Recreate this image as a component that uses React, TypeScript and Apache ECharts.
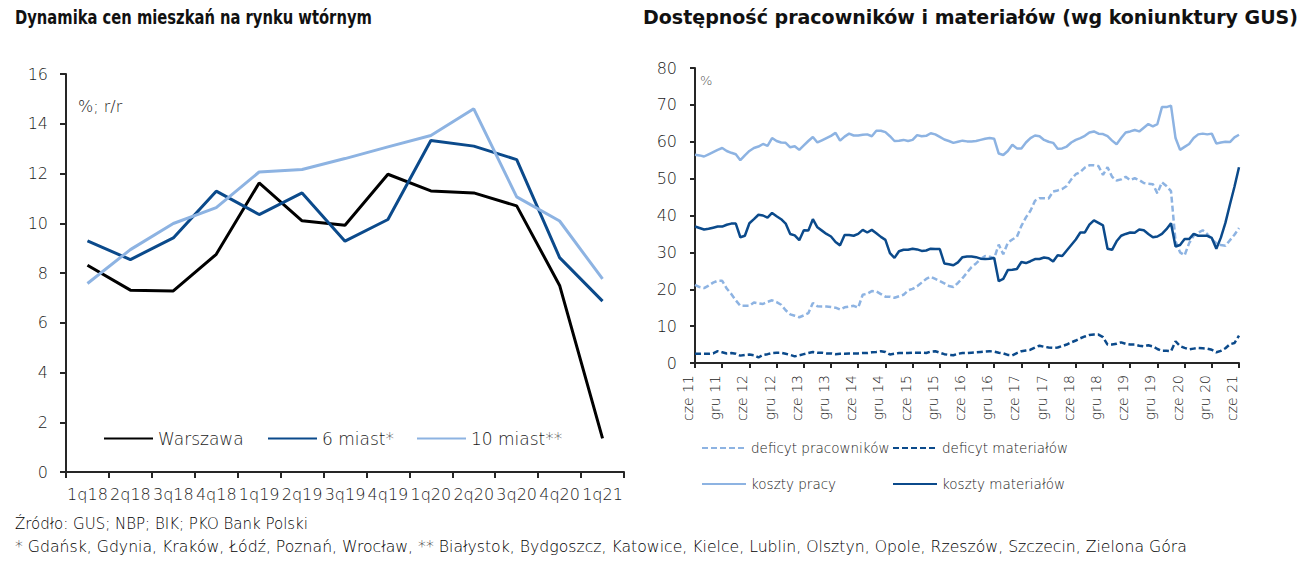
import React, { useEffect, useRef } from 'react';
import * as echarts from 'echarts';

// ---- Left chart data ----
const quarters = ['1q18', '2q18', '3q18', '4q18', '1q19', '2q19', '3q19', '4q19', '1q20', '2q20', '3q20', '4q20', '1q21'];
const warszawa = [8.31, 7.31, 7.28, 8.75, 11.62, 10.1, 9.92, 11.97, 11.3, 11.22, 10.7, 7.5, 1.35];
const miast6 = [9.29, 8.54, 9.41, 11.29, 10.35, 11.22, 9.28, 10.15, 13.33, 13.1, 12.56, 8.62, 6.87];
const miast10 = [7.58, 8.94, 9.99, 10.63, 12.06, 12.16, 12.6, 13.07, 13.53, 14.6, 11.06, 10.09, 7.76];

// ---- Right chart data (monthly, cze 11 .. cze 21) ----
const monthNames = ['sty', 'lut', 'mar', 'kwi', 'maj', 'cze', 'lip', 'sie', 'wrz', 'paź', 'lis', 'gru'];
const months: string[] = [];
for (let i = 0; i < 121; i++) {
  const mi = (5 + i) % 12;
  const yr = 11 + Math.floor((5 + i) / 12);
  months.push(monthNames[mi] + ' ' + yr);
}

const deficytPracownikow = [
  21.2, 20.6, 20.3, 21.0, 21.8, 22.3, 22.3, 20.2, 18.7, 17.0,
  15.5, 15.5, 15.5, 16.4, 16.2, 16.0, 16.6, 17.0, 16.5, 15.8,
  14.3, 13.2, 12.8, 12.4, 12.9, 13.5, 16.3, 15.4, 15.3, 15.3,
  15.2, 15.0, 14.5, 15.1, 15.3, 15.5, 15.0, 18.5, 18.8, 19.5,
  19.4, 18.7, 18.0, 18.0, 17.7, 18.1, 18.5, 19.7, 20.1, 20.8,
  21.8, 22.8, 23.4, 22.8, 22.2, 21.6, 20.9, 20.6, 21.7, 23.0,
  24.5, 26.0, 27.0, 28.2, 29.0, 28.8, 28.4, 32.1, 29.5, 32.6,
  33.5, 34.2, 37.2, 39.5, 41.3, 44.0, 44.7, 44.7, 44.6, 46.5,
  46.8, 47.2, 48.0, 49.8, 51.2, 51.8, 53.0, 53.6, 53.6, 53.4,
  51.0, 53.1, 50.5, 49.5, 49.8, 50.5, 49.6, 50.1, 49.6, 48.8,
  48.6, 48.5, 46.0, 49.0, 48.0, 46.6, 33.0, 30.0, 29.2, 32.5,
  34.5, 35.3, 36.0, 35.0, 33.5, 32.5, 32.0, 31.8, 33.3, 34.8,
  36.6,
];

const deficytMaterialow = [
  2.5, 2.5, 2.5, 2.5, 2.6, 3.2, 2.9, 2.6, 2.7, 2.5,
  2.0, 2.2, 2.3, 2.1, 1.5, 2.2, 2.4, 2.7, 2.8, 2.8,
  2.5, 2.2, 1.8, 2.1, 2.4, 2.7, 3.0, 2.8, 2.8, 2.6,
  2.6, 2.4, 2.5, 2.5, 2.6, 2.6, 2.6, 2.7, 2.7, 2.9,
  3.0, 3.2, 3.0, 2.3, 2.5, 2.7, 2.7, 2.7, 2.8, 2.8,
  2.8, 2.7, 3.1, 3.2, 2.8, 2.4, 2.2, 2.1, 2.5, 2.7,
  2.7, 2.8, 2.9, 3.0, 3.1, 3.2, 3.1, 2.8, 2.6, 2.2,
  2.1, 2.7, 3.2, 3.4, 3.6, 4.2, 4.7, 4.4, 4.2, 4.1,
  4.2, 4.6, 5.0, 5.6, 6.1, 6.7, 7.2, 7.6, 7.7, 7.7,
  7.0, 5.0, 5.0, 5.2, 5.6, 5.2, 5.0, 5.0, 4.7, 4.5,
  4.8, 4.5, 3.8, 3.3, 3.3, 3.2, 5.9, 4.6, 4.1, 3.7,
  3.9, 4.1, 4.0, 3.9, 3.6, 2.9, 3.3, 4.0, 5.1, 5.4,
  7.4,
];

const kosztyPracy = [
  56.5, 56.3, 56.0, 56.6, 57.2, 57.8, 58.3, 57.5, 57.0, 56.6,
  55.0, 56.3, 57.5, 58.3, 58.7, 59.4, 58.9, 61.0, 60.2, 59.8,
  59.7, 58.5, 58.8, 57.8, 59.0, 60.2, 61.3, 59.8, 60.4, 61.0,
  61.6, 62.4, 60.3, 61.4, 62.2, 61.7, 61.7, 61.9, 62.0, 61.5,
  63.0, 63.0, 62.6, 61.5, 60.2, 60.3, 60.5, 60.2, 60.5, 61.8,
  61.5, 61.6, 62.3, 62.0, 61.3, 60.6, 60.2, 59.7, 60.0, 60.3,
  60.1, 60.1, 60.2, 60.5, 60.8, 61.0, 60.8, 56.8, 56.4, 57.5,
  59.2, 58.2, 58.2, 59.8, 61.0, 61.7, 61.5, 60.5, 60.0, 59.7,
  58.1, 58.2, 58.7, 59.8, 60.5, 61.0, 61.6, 62.5, 62.8, 62.2,
  62.1, 61.5, 60.3, 59.3, 61.0, 62.5, 62.8, 63.2, 62.8, 63.8,
  64.8, 64.2, 64.8, 69.4, 69.4, 69.8, 61.0, 57.8, 58.6, 59.4,
  61.0, 62.0, 62.2, 62.0, 62.2, 59.5, 59.8, 60.0, 59.9, 61.2,
  61.9,
];

const kosztyMaterialow = [
  37.0, 36.6, 36.2, 36.4, 36.7, 37.0, 37.0, 37.5, 37.8, 37.8,
  34.1, 34.5, 37.9, 39.0, 40.2, 40.0, 39.4, 40.7, 39.8, 39.0,
  37.8, 35.0, 34.6, 33.3, 36.0, 35.9, 39.0, 36.8, 35.9, 35.0,
  34.3, 32.8, 31.9, 34.7, 34.7, 34.5, 35.0, 36.1, 35.4, 36.1,
  35.2, 34.2, 33.4, 29.8, 28.5, 30.3, 30.7, 30.7, 31.0, 30.8,
  30.4, 30.5, 31.0, 30.9, 30.9, 27.0, 26.8, 26.5, 27.3, 28.7,
  28.9, 28.9, 28.7, 28.3, 28.2, 28.3, 28.5, 22.2, 22.8, 25.2,
  25.3, 25.5, 27.4, 27.1, 27.6, 28.2, 28.2, 28.6, 28.4, 27.5,
  29.2, 29.0, 30.5, 32.0, 33.5, 35.4, 35.4, 37.5, 38.7, 38.0,
  37.3, 31.0, 30.7, 33.0, 34.5, 35.0, 35.4, 35.3, 36.2, 36.0,
  35.0, 34.1, 34.3, 35.0, 36.3, 37.9, 31.6, 32.0, 33.6, 33.6,
  35.0, 34.5, 34.5, 34.5, 33.9, 31.0, 34.0, 38.0, 43.0, 47.8,
  53.1,
];

const BLACK = '#000000';
const DARK = '#0b4a8b';
const LIGHT = '#8db3e2';
const AXIS = '#262626';
const labelFont = '"DejaVu Sans", sans-serif';
const LW = 200;
const titleFont = '"DejaVu Sans Condensed", "DejaVu Sans", sans-serif';

function legendAt(name: string, left: number, top: number, w: number, fs: number) {
  return {
    data: [name],
    left,
    top,
    itemWidth: w,
    itemHeight: 14,
    padding: 0,
    selectedMode: false,
    itemStyle: { opacity: 0 },
    textStyle: { fontSize: fs, color: '#1a1a1a', fontFamily: labelFont, fontWeight: LW },
  };
}

export default function App() {
  const ref = useRef<HTMLDivElement>(null);
  useEffect(() => {
    const chart = echarts.init(ref.current!, null, { renderer: 'svg' });
    const option: any = {
      animation: false,
      backgroundColor: '#ffffff',
      legend: [
        legendAt('Warszawa', 103, 430, 49, 17),
        legendAt('6 miast*', 267, 430, 49, 17),
        legendAt('10 miast**', 416, 430, 49, 17),
        legendAt('deficyt pracowników', 701, 441, 44, 13.5),
        legendAt('deficyt materiałów', 892, 441, 44, 13.5),
        legendAt('koszty pracy', 701, 477, 44, 13.5),
        legendAt('koszty materiałów', 892, 477, 44, 13.5),
      ],
      grid: [
        { left: 66, top: 74, width: 558, height: 398 },
        { left: 695, top: 68, width: 544, height: 295 },
      ],
      xAxis: [
        {
          type: 'category',
          gridIndex: 0,
          data: quarters,
          boundaryGap: true,
          axisLine: { lineStyle: { color: AXIS, width: 2 } },
          axisTick: { show: true, length: 6, lineStyle: { color: AXIS, width: 2 } },
          axisLabel: { interval: 0, margin: 14, fontSize: 16, color: '#1a1a1a', fontFamily: labelFont, fontWeight: LW },
          splitLine: { show: false },
        },
        {
          type: 'category',
          gridIndex: 1,
          data: months,
          boundaryGap: false,
          axisLine: { lineStyle: { color: AXIS, width: 2 } },
          axisTick: { show: true, interval: 5, length: 5, lineStyle: { color: AXIS, width: 2 } },
          axisLabel: {
            interval: 5,
            rotate: 90,
            margin: 12,
            fontSize: 14,
            color: '#1a1a1a',
            fontFamily: labelFont,
            fontWeight: LW,
            verticalAlign: 'bottom',
          },
          splitLine: { show: false },
        },
      ],
      yAxis: [
        {
          type: 'value',
          gridIndex: 0,
          min: 0,
          max: 16,
          interval: 2,
          axisLine: { show: true, lineStyle: { color: AXIS, width: 2 } },
          axisTick: { show: true, length: 6, lineStyle: { color: AXIS, width: 2 } },
          axisLabel: { margin: 18, fontSize: 16, color: '#1a1a1a', fontFamily: labelFont, fontWeight: LW },
          splitLine: { show: false },
        },
        {
          type: 'value',
          gridIndex: 1,
          min: 0,
          max: 80,
          interval: 10,
          axisLine: { show: true, lineStyle: { color: AXIS, width: 2 } },
          axisTick: { show: true, length: 5, lineStyle: { color: AXIS, width: 2 } },
          axisLabel: { margin: 18, fontSize: 16, color: '#1a1a1a', fontFamily: labelFont, fontWeight: LW },
          splitLine: { show: false },
        },
      ],
      series: [
        { name: 'Warszawa', type: 'line', xAxisIndex: 0, yAxisIndex: 0, data: warszawa, symbol: 'none', color: BLACK, lineStyle: { color: BLACK, width: 3 } },
        { name: '6 miast*', type: 'line', xAxisIndex: 0, yAxisIndex: 0, data: miast6, symbol: 'none', color: DARK, lineStyle: { color: DARK, width: 3 } },
        { name: '10 miast**', type: 'line', xAxisIndex: 0, yAxisIndex: 0, data: miast10, symbol: 'none', color: LIGHT, lineStyle: { color: LIGHT, width: 3 } },
        { name: 'deficyt pracowników', type: 'line', xAxisIndex: 1, yAxisIndex: 1, data: deficytPracownikow, symbol: 'none', color: LIGHT, lineStyle: { color: LIGHT, width: 2.5, type: [6, 3] } },
        { name: 'deficyt materiałów', type: 'line', xAxisIndex: 1, yAxisIndex: 1, data: deficytMaterialow, symbol: 'none', color: DARK, lineStyle: { color: DARK, width: 2.5, type: [6, 3] } },
        { name: 'koszty pracy', type: 'line', xAxisIndex: 1, yAxisIndex: 1, data: kosztyPracy, symbol: 'none', color: LIGHT, lineStyle: { color: LIGHT, width: 2.5 } },
        { name: 'koszty materiałów', type: 'line', xAxisIndex: 1, yAxisIndex: 1, data: kosztyMaterialow, symbol: 'none', color: DARK, lineStyle: { color: DARK, width: 2.5 } },
      ],
      graphic: [
        {
          type: 'text',
          x: 15,
          y: 7,
          scaleX: 0.82,
          style: { text: 'Dynamika cen mieszkań na rynku wtórnym', fontSize: 20, fontWeight: 'bold', fontFamily: titleFont, fill: '#111' },
        },
        {
          type: 'text',
          x: 643,
          y: 7,
          scaleX: 1.057,
          style: { text: 'Dostępność pracowników i materiałów (wg koniunktury GUS)', fontSize: 20, fontWeight: 'bold', fontFamily: titleFont, fill: '#111' },
        },
        { type: 'text', left: 78, top: 98, style: { text: '%; r/r', fontSize: 16, fill: '#1a1a1a', fontFamily: labelFont, fontWeight: LW } },
        { type: 'text', left: 700, top: 74, style: { text: '%', fontSize: 13, fill: '#555', fontFamily: labelFont, fontWeight: LW } },
        { type: 'text', left: 15, top: 516, style: { text: 'Źródło: GUS; NBP; BIK; PKO Bank Polski', fontSize: 15, fill: '#000', fontFamily: labelFont, fontWeight: LW } },
        {
          type: 'text',
          left: 15,
          top: 538,
          style: {
            text: '* Gdańsk, Gdynia, Kraków, Łódź, Poznań, Wrocław, ** Białystok, Bydgoszcz, Katowice, Kielce, Lublin, Olsztyn, Opole, Rzeszów, Szczecin, Zielona Góra',
            fontSize: 15.7,
            fill: '#000',
            fontFamily: labelFont,
            fontWeight: LW,
          },
        },
      ],
    };
    chart.setOption(option);
    return () => chart.dispose();
  }, []);
  return (
    <div
      ref={ref}
      style={{ position: 'fixed', left: 0, top: 0, width: 1308, height: 562, background: '#fff' }}
    />
  );
}
